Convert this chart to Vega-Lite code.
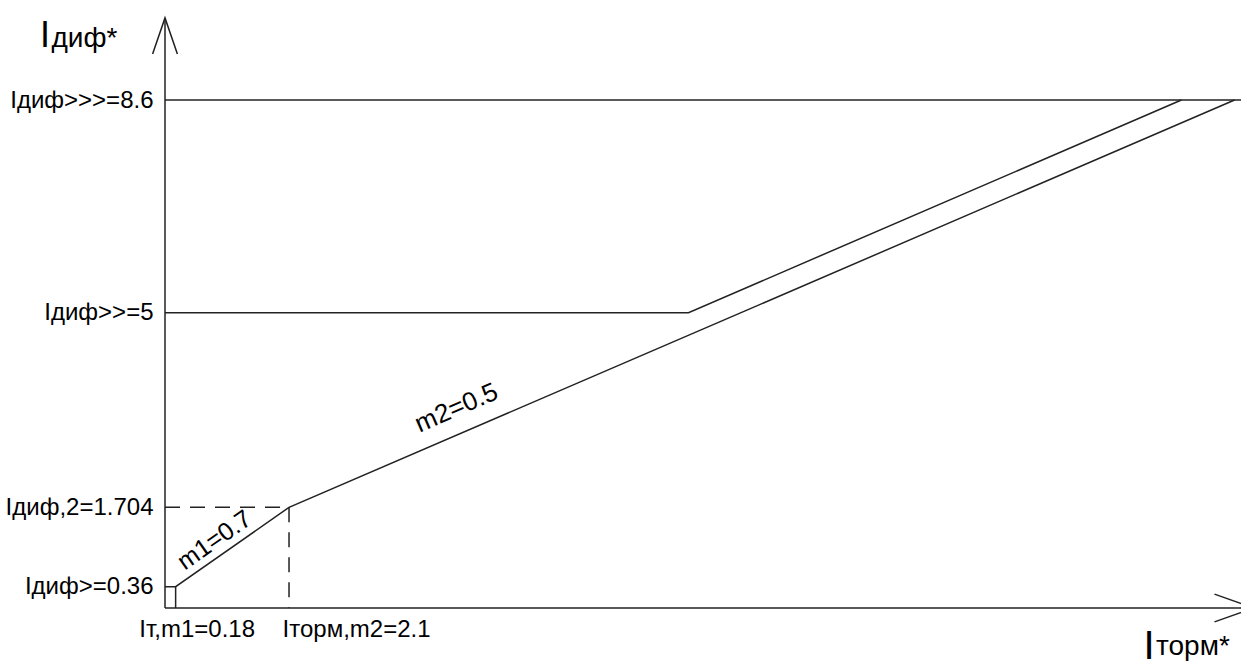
{
  "$schema": "https://vega.github.io/schema/vega-lite/v6.json",
  "width": 1076,
  "height": 608,
  "padding": {"left": 165, "top": 0, "right": 0, "bottom": 53},
  "autosize": {"type": "none"},
  "background": "white",
  "config": {"view": {"stroke": null}, "font": "Liberation Sans"},
  "encoding": {
    "x": {
      "field": "x", "type": "quantitative",
      "scale": {"domain": [0, 18.219], "nice": false, "zero": false},
      "axis": {
        "values": [0.18, 2.1], "domain": false, "ticks": false, "grid": false, "title": null,
        "labelExpr": "datum.value < 1 ? 'Iт,m1=0.18' : 'Iторм,m2=2.1'",
        "labelFontSize": 24, "labelColor": "black", "labelFont": "Liberation Sans",
        "labelPadding": 9, "labelOverlap": false,
        "labelOffset": {"condition": {"test": "datum.value < 1", "value": 21}, "value": 67}
      }
    },
    "y": {
      "field": "y", "type": "quantitative",
      "scale": {"domain": [0, 10.293], "nice": false, "zero": false},
      "axis": {
        "values": [0.36, 1.704, 5, 8.6], "domain": false, "ticks": false, "grid": false, "title": null,
        "labelExpr": "datum.value == 8.6 ? 'Iдиф>>>=8.6' : datum.value == 5 ? 'Iдиф>>=5' : datum.value == 1.704 ? 'Iдиф,2=1.704' : 'Iдиф>=0.36'",
        "labelFontSize": 24, "labelColor": "black", "labelFont": "Liberation Sans",
        "labelPadding": 12, "labelOverlap": false
      }
    }
  },
  "layer": [
    {
      "data": {"values": [
        {"seg": "yaxis", "o": 0, "x": 0, "y": 0},
        {"seg": "yaxis", "o": 1, "x": 0, "y": 9.99},
        {"seg": "yarrow", "o": 0, "x": -0.21, "y": 9.38},
        {"seg": "yarrow", "o": 1, "x": 0, "y": 9.99},
        {"seg": "yarrow", "o": 2, "x": 0.21, "y": 9.38},
        {"seg": "xaxis", "o": 0, "x": 0, "y": 0},
        {"seg": "xaxis", "o": 1, "x": 18.43, "y": 0},
        {"seg": "xarrow", "o": 0, "x": 17.77, "y": 0.235},
        {"seg": "xarrow", "o": 1, "x": 18.43, "y": 0},
        {"seg": "xarrow", "o": 2, "x": 17.77, "y": -0.235},
        {"seg": "h86", "o": 0, "x": 0, "y": 8.6},
        {"seg": "h86", "o": 1, "x": 18.22, "y": 8.6},
        {"seg": "h5", "o": 0, "x": 0, "y": 5},
        {"seg": "h5", "o": 1, "x": 8.864, "y": 5},
        {"seg": "h5", "o": 2, "x": 17.21, "y": 8.6},
        {"seg": "char", "o": 0, "x": 0, "y": 0.36},
        {"seg": "char", "o": 1, "x": 0.18, "y": 0.36},
        {"seg": "char", "o": 2, "x": 2.1, "y": 1.704},
        {"seg": "char", "o": 3, "x": 18.11, "y": 8.6},
        {"seg": "vsmall", "o": 0, "x": 0.18, "y": 0},
        {"seg": "vsmall", "o": 1, "x": 0.18, "y": 0.36}
      ]},
      "mark": {"type": "line", "color": "#222222", "strokeWidth": 1.5},
      "encoding": {"detail": {"field": "seg"}, "order": {"field": "o", "type": "quantitative"}}
    },
    {
      "data": {"values": [
        {"seg": "dh", "o": 0, "x": 0, "y": 1.704},
        {"seg": "dh", "o": 1, "x": 2.1, "y": 1.704},
        {"seg": "dv", "o": 0, "x": 2.1, "y": 1.704},
        {"seg": "dv", "o": 1, "x": 2.1, "y": 0}
      ]},
      "mark": {"type": "line", "color": "#222222", "strokeWidth": 1.5, "strokeDash": [15, 10]},
      "encoding": {"detail": {"field": "seg"}, "order": {"field": "o", "type": "quantitative"}}
    },
    {
      "data": {"values": [
        {"t": "m2=0.5", "x": 4.936, "y": 3.386}
      ]},
      "mark": {"type": "text", "fontSize": 26, "angle": 336.6, "align": "center", "baseline": "middle", "color": "black"},
      "encoding": {"text": {"field": "t"}}
    },
    {
      "data": {"values": [
        {"t": "m1=0.7", "x": 0.838, "y": 1.151}
      ]},
      "mark": {"type": "text", "fontSize": 25, "angle": 325, "align": "center", "baseline": "middle", "color": "black"},
      "encoding": {"text": {"field": "t"}}
    },
    {
      "data": {"values": [
        {"t": "I", "x": -2.117, "y": 9.497}
      ]},
      "mark": {"type": "text", "fontSize": 36, "align": "left", "baseline": "alphabetic", "color": "black"},
      "encoding": {"text": {"field": "t"}}
    },
    {
      "data": {"values": [
        {"t": "I", "x": 16.57, "y": -0.86}
      ]},
      "mark": {"type": "text", "fontSize": 40, "align": "left", "baseline": "alphabetic", "color": "black"},
      "encoding": {"text": {"field": "t"}}
    },
    {
      "data": {"values": [
        {"t": "диф*", "x": -1.922, "y": 9.497},
        {"t": "торм*", "x": 16.78, "y": -0.796}
      ]},
      "mark": {"type": "text", "fontSize": 28, "align": "left", "baseline": "alphabetic", "color": "black"},
      "encoding": {"text": {"field": "t"}}
    }
  ]
}
